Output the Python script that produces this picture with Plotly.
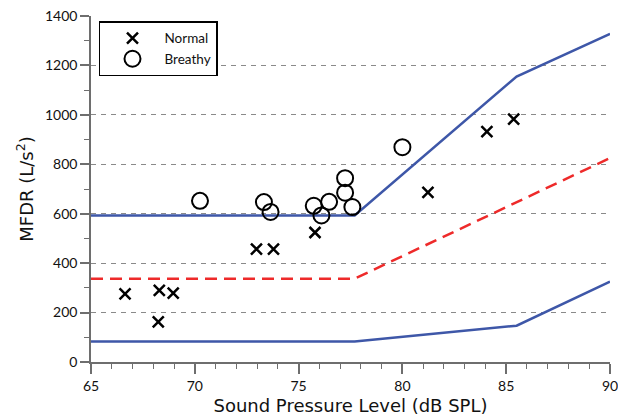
import plotly.graph_objects as go

# Data
normal_spl = [66.64, 68.29, 68.96, 68.24, 72.97, 73.79, 75.79, 81.23, 84.07, 85.36]
normal_mfdr = [276, 290, 279, 162, 457, 457, 524, 686, 932, 983]

breathy_spl = [70.25, 73.33, 73.65, 75.73, 76.10, 76.47, 77.24, 77.24, 77.59, 80.0]
breathy_mfdr = [652, 647, 607, 632, 593, 648, 744, 685, 627, 869]

bound_spl = [65, 77.7, 85.5, 90]
upper_mfdr = [593, 593, 1155, 1328]
lower_mfdr = [83, 83, 147, 325]

mean_spl = [65, 77.7, 90]
mean_mfdr = [337, 337, 825]

x_ticks = [65, 70, 75, 80, 85, 90]
y_ticks = [0, 200, 400, 600, 800, 1000, 1200, 1400]

BLUE = "#3e57a8"
RED = "#ee2a2a"
AXIS = "#6e6e6e"
TICKFONT = "Lato"

fig = go.Figure()

fig.add_trace(go.Scatter(x=bound_spl, y=upper_mfdr, mode="lines",
                         line=dict(color=BLUE, width=2.5), showlegend=False,
                         hoverinfo="skip"))
fig.add_trace(go.Scatter(x=bound_spl, y=lower_mfdr, mode="lines",
                         line=dict(color=BLUE, width=2.5), showlegend=False,
                         hoverinfo="skip"))
fig.add_trace(go.Scatter(x=mean_spl, y=mean_mfdr, mode="lines",
                         line=dict(color=RED, width=2.5, dash="12px,7px"),
                         showlegend=False, hoverinfo="skip"))

fig.add_trace(go.Scatter(x=normal_spl, y=normal_mfdr, mode="markers", name="Normal",
                         marker=dict(symbol="x-thin-open", size=11,
                                     line=dict(color="black", width=2.5),
                                     color="black")))
fig.add_trace(go.Scatter(x=breathy_spl, y=breathy_mfdr, mode="markers", name="Breathy",
                         marker=dict(symbol="circle-open", size=16,
                                     line=dict(color="black", width=2),
                                     color="black")))

fig.update_layout(
    width=618, height=420,
    margin=dict(l=91, r=8, t=16, b=58, autoexpand=False),
    paper_bgcolor="white", plot_bgcolor="white",
    font=dict(family=TICKFONT, color="#111"),
    legend=dict(x=0.0154, y=0.9843, xanchor="left", yanchor="top",
                bordercolor="black", borderwidth=1.5, bgcolor="white",
                font=dict(family=TICKFONT, size=13.5, color="#111"),
                tracegroupgap=0, itemwidth=54),
    showlegend=True,
)

fig.update_xaxes(
    range=[65, 90], tickvals=x_ticks, ticktext=[str(v) for v in x_ticks],
    showgrid=False, zeroline=False, automargin=False,
    showline=True, linecolor=AXIS, linewidth=1.5,
    ticks="outside", ticklen=10, tickwidth=1.5, tickcolor=AXIS,
    minor=dict(dtick=1, ticks="outside", ticklen=5, tickwidth=1.2, tickcolor=AXIS, showgrid=False),
    tickfont=dict(family=TICKFONT, size=14, color="#111"),
    ticklabeloverflow="allow",
    title=dict(text="Sound Pressure Level (dB SPL)", font=dict(family="DejaVu Sans", size=18, color="#111"), standoff=7),
)
fig.update_yaxes(
    range=[0, 1400], tickvals=y_ticks, ticktext=[str(v) for v in y_ticks],
    showgrid=True, gridcolor="#8a8a8a", gridwidth=1, griddash="5px,5px",
    zeroline=False, automargin=False,
    showline=True, linecolor=AXIS, linewidth=1.5,
    ticks="outside", ticklen=9, tickwidth=1.5, tickcolor=AXIS,
    minor=dict(dtick=100, ticks="outside", ticklen=5, tickwidth=1.2, tickcolor=AXIS, showgrid=False),
    tickfont=dict(family=TICKFONT, size=14, color="#111"),
    title=dict(text="MFDR (L/s<sup>2</sup>)", font=dict(family="DejaVu Sans", size=18, color="#111"), standoff=7),
)

fig.write_html("out.html", config={"displayModeBar": False},
               post_script="document.body.style.margin='0';document.body.style.padding='0';")
